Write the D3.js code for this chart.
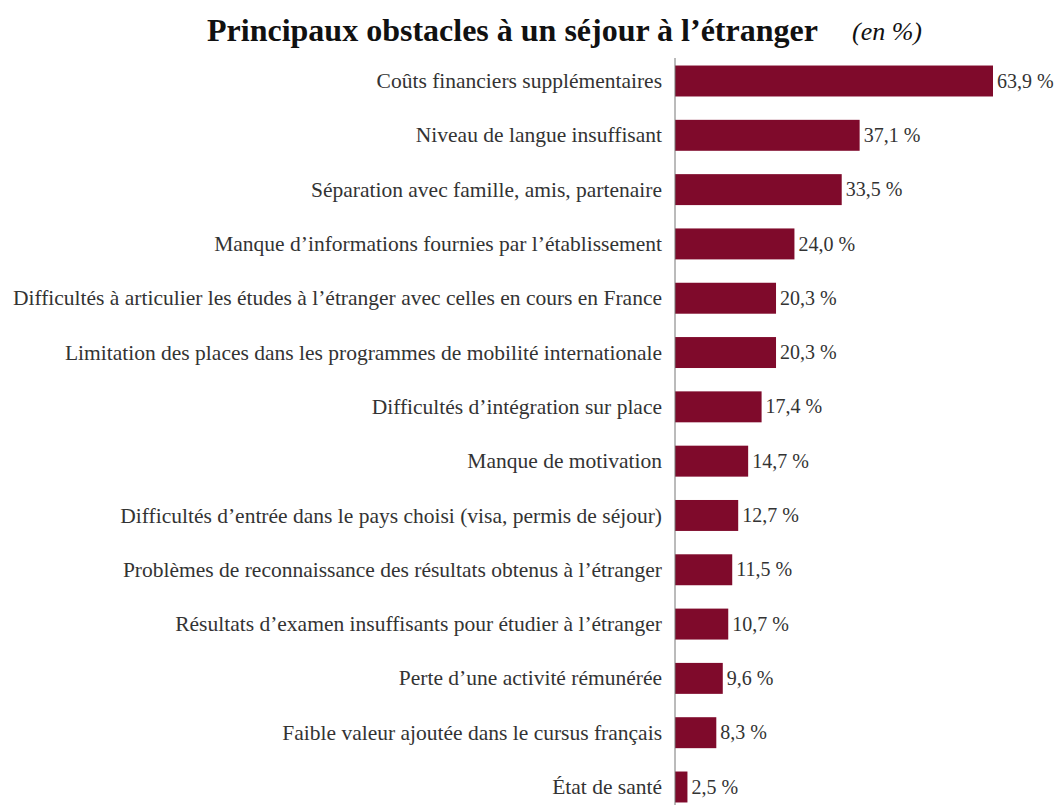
<!DOCTYPE html>
<html><head><meta charset="utf-8">
<script src="https://cdn.jsdelivr.net/npm/d3@7"></script>
<style>body{margin:0;background:#fff}svg{display:block}</style>
</head><body>
<script>
const categories = [
  "Coûts financiers supplémentaires",
  "Niveau de langue insuffisant",
  "Séparation avec famille, amis, partenaire",
  "Manque d’informations fournies par l’établissement",
  "Difficultés à articulier les études à l’étranger avec celles en cours en France",
  "Limitation des places dans les programmes de mobilité internationale",
  "Difficultés d’intégration sur place",
  "Manque de motivation",
  "Difficultés d’entrée dans le pays choisi (visa, permis de séjour)",
  "Problèmes de reconnaissance des résultats obtenus à l’étranger",
  "Résultats d’examen insuffisants pour étudier à l’étranger",
  "Perte d’une activité rémunérée",
  "Faible valeur ajoutée dans le cursus français",
  "État de santé"
];
const values = [63.9, 37.1, 33.5, 24.0, 20.3, 20.3, 17.4, 14.7, 12.7, 11.5, 10.7, 9.6, 8.3, 2.5];
const title = "Principaux obstacles à un séjour à l’étranger";
const subtitle = "(en %)";

const W = 1054, H = 805;
const svg = d3.select("body").append("svg").attr("width", W).attr("height", H);
const serif = "'Liberation Serif', 'DejaVu Serif', serif";

const x = d3.scaleLinear().domain([0, 63.9]).range([675, 993]);
const y = d3.scaleBand().domain(categories).range([53.85, 814.15]).paddingInner(0.43).paddingOuter(0.215);

svg.append("text").attr("x", 207).attr("y", 41)
  .attr("font-family", serif).attr("font-weight", "bold").attr("font-size", 32).attr("fill", "#111")
  .text(title);
svg.append("text").attr("x", 852).attr("y", 40)
  .attr("font-family", serif).attr("font-style", "italic").attr("font-size", 26).attr("fill", "#111")
  .text(subtitle);

const data = categories.map((c, i) => ({c, v: values[i]}));

svg.selectAll("rect.bar").data(data).join("rect").attr("class", "bar")
  .attr("x", x(0)).attr("y", d => y(d.c))
  .attr("width", d => x(d.v) - x(0)).attr("height", y.bandwidth())
  .attr("fill", "#7f0a2b");

svg.append("line").attr("x1", x(0)).attr("x2", x(0)).attr("y1", 58).attr("y2", 805)
  .attr("stroke", "#777").attr("stroke-width", 1);

svg.selectAll("text.cat").data(data).join("text").attr("class", "cat")
  .attr("x", x(0) - 13).attr("y", d => y(d.c) + y.bandwidth() / 2)
  .attr("dy", "0.33em").attr("text-anchor", "end")
  .attr("font-family", serif).attr("font-size", 21.5).attr("fill", "#333")
  .text(d => d.c);

const fmt = v => v.toFixed(1).replace(".", ",") + " %";
svg.selectAll("text.val").data(data).join("text").attr("class", "val")
  .attr("x", d => x(d.v) + 4).attr("y", d => y(d.c) + y.bandwidth() / 2)
  .attr("dy", "0.33em")
  .attr("font-family", serif).attr("font-size", 20).attr("fill", "#333")
  .text(d => fmt(d.v));
</script>
</body></html>
